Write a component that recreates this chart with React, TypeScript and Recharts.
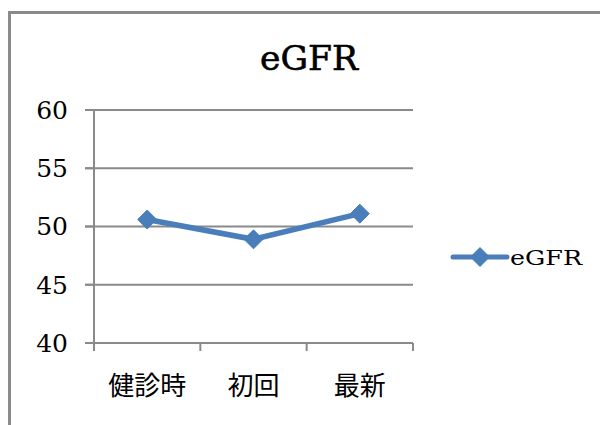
import { LineChart, Line, XAxis, YAxis, CartesianGrid } from "recharts";

const categories = ["健診時", "初回", "最新"];
const egfrValues = [50.6, 48.9, 51.1];
const yTicks = [40, 45, 50, 55, 60];
const seriesName = "eGFR";

const data = categories.map((c, i) => ({ name: c, eGFR: egfrValues[i] }));

const BLUE = "#4a7ebb";
const GRAY = "#8a8a8a";
const SERIF = "'DejaVu Serif', serif";
const CJK = "'Noto Sans CJK JP', sans-serif";

const PLOT_LEFT = 94;
const PLOT_RIGHT = 413;
const BAND = (PLOT_RIGHT - PLOT_LEFT) / categories.length;

function Diamond(props: any) {
  const { cx, cy, index } = props;
  if (cx == null || cy == null) return null;
  const r = 9.5;
  return (
    <path
      key={`d-${index}`}
      d={`M${cx},${cy - r}L${cx + r},${cy}L${cx},${cy + r}L${cx - r},${cy}Z`}
      fill={BLUE}
      stroke={BLUE}
      strokeWidth={1}
      strokeLinejoin="round"
    />
  );
}

function CategoryTick(props: any) {
  const { x, y, payload, index } = props;
  const last = index === categories.length - 1;
  return (
    <g>
      <line x1={x - BAND / 2} y1={y - 8} x2={x - BAND / 2} y2={y} stroke={GRAY} strokeWidth={2} />
      {last && <line x1={x + BAND / 2} y1={y - 8} x2={x + BAND / 2} y2={y} stroke={GRAY} strokeWidth={2} />}
      <text x={x} y={y + 44} textAnchor="middle" fontFamily={CJK} fontSize={26} fill="#000">
        {payload.value}
      </text>
    </g>
  );
}

export default function App() {
  return (
    <div style={{ position: "fixed", left: 0, top: 0, width: 600, height: 425, background: "#fff", overflow: "hidden" }}>
      <div
        style={{
          position: "absolute",
          left: 8,
          top: 11,
          width: 620,
          height: 440,
          border: `3px solid ${GRAY}`,
          boxSizing: "border-box",
        }}
      />
      <div style={{ position: "absolute", left: 0, top: 0 }}>
        <LineChart width={600} height={425} data={data} margin={{ top: 110, right: 600 - PLOT_RIGHT, bottom: 32, left: 0 }}>
          <CartesianGrid horizontal vertical={false} stroke={GRAY} strokeWidth={2} x={85} width={PLOT_RIGHT - 85} />
          <XAxis
            dataKey="name"
            scale="band"
            height={50}
            stroke={GRAY}
            strokeWidth={2}
            tickLine={false}
            tickSize={8}
            tickMargin={0}
            tick={<CategoryTick />}
            interval={0}
          />
          <YAxis
            width={PLOT_LEFT}
            domain={[40, 60]}
            ticks={yTicks}
            interval={0}
            stroke={GRAY}
            strokeWidth={2}
            tickSize={9}
            tickMargin={17}
            tick={{ fill: "#000", fontFamily: SERIF, fontSize: 25 }}
          />
          <Line
            type="linear"
            dataKey="eGFR"
            stroke={BLUE}
            strokeWidth={5.5}
            dot={<Diamond />}
            activeDot={false}
            isAnimationActive={false}
          />
          <text
            x={309}
            y={70}
            textAnchor="middle"
            fontFamily={SERIF}
            fontSize={34}
            fill="#000"
            stroke="#000"
            strokeWidth={0.6}
            textLength={98}
            lengthAdjust="spacingAndGlyphs"
          >
            eGFR
          </text>
          <g>
            <line x1={453} y1={257} x2={507} y2={257} stroke={BLUE} strokeWidth={5} strokeLinecap="round" />
            <Diamond cx={480} cy={257} index={99} />
            <text x={510} y={265} fontFamily={SERIF} fontSize={21} fill="#000" textLength={72} lengthAdjust="spacingAndGlyphs">
              {seriesName}
            </text>
          </g>
        </LineChart>
      </div>
    </div>
  );
}
